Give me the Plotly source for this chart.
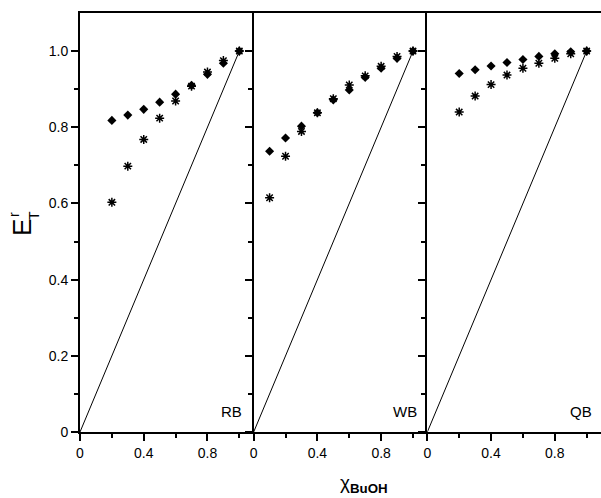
import plotly.graph_objects as go
from plotly.subplots import make_subplots

# ---- data ----
x_rb = [0.2, 0.3, 0.4, 0.5, 0.6, 0.7, 0.8, 0.9, 1.0]
rb_diamond = [0.818, 0.832, 0.847, 0.866, 0.887, 0.910, 0.939, 0.968, 1.0]
rb_star = [0.603, 0.698, 0.768, 0.824, 0.869, 0.908, 0.945, 0.975, 1.0]

x_wb = [0.1, 0.2, 0.3, 0.4, 0.5, 0.6, 0.7, 0.8, 0.9, 1.0]
wb_diamond = [0.737, 0.772, 0.803, 0.838, 0.872, 0.898, 0.931, 0.955, 0.981, 1.0]
wb_star = [0.615, 0.724, 0.789, 0.838, 0.875, 0.911, 0.935, 0.960, 0.986, 1.0]

x_qb = [0.2, 0.3, 0.4, 0.5, 0.6, 0.7, 0.8, 0.9, 1.0]
qb_diamond = [0.941, 0.951, 0.961, 0.970, 0.978, 0.986, 0.993, 0.998, 1.0]
qb_star = [0.840, 0.882, 0.912, 0.937, 0.955, 0.968, 0.981, 0.993, 1.0]

ideal_x = [0, 1]
ideal_y = [0, 1]

panel_names = ["RB", "WB", "QB"]
x_ticks = [0, 0.4, 0.8]
x_ticktext = ["0", "0.4", "0.8"]
x_minor = [0.2, 0.6, 1.0]
y_ticks = [0, 0.2, 0.4, 0.6, 0.8, 1.0]
y_ticktext = ["0", "0.2", "0.4", "0.6", "0.8", "1.0"]
y_minor = [0.1, 0.3, 0.5, 0.7, 0.9]

FONT = "Arial, Liberation Sans, sans-serif"

fig = make_subplots(rows=1, cols=3, horizontal_spacing=0, shared_yaxes=False)

panels = [(x_rb, rb_diamond, rb_star), (x_wb, wb_diamond, wb_star), (x_qb, qb_diamond, qb_star)]
for i, (xs, dia, star) in enumerate(panels, start=1):
    fig.add_trace(go.Scatter(x=ideal_x, y=ideal_y, mode="lines",
                             line=dict(color="black", width=1), showlegend=False,
                             hoverinfo="skip"), row=1, col=i)
    fig.add_trace(go.Scatter(x=xs, y=star, mode="markers",
                             marker=dict(symbol="asterisk-open", size=7.5, color="black",
                                         line=dict(color="black", width=1.5)),
                             showlegend=False), row=1, col=i)
    fig.add_trace(go.Scatter(x=xs, y=dia, mode="markers",
                             marker=dict(symbol="diamond", size=7, color="black"),
                             showlegend=False), row=1, col=i)

for i in range(1, 4):
    fig.update_xaxes(range=[0, 1.09], tickvals=x_ticks, ticktext=x_ticktext,
                     ticks="outside", ticklen=7, tickwidth=1.5, tickcolor="black",
                     minor=dict(tickvals=x_minor, ticks="outside", ticklen=4,
                                tickwidth=1.5, tickcolor="black"),
                     showline=True, linewidth=2, linecolor="black", mirror=True,
                     showgrid=False, zeroline=False,
                     tickfont=dict(family=FONT, size=14, color="black"),
                     row=1, col=i)
    fig.update_yaxes(range=[0, 1.1], tickvals=y_ticks, ticktext=y_ticktext,
                     ticks="outside", ticklen=7, tickwidth=1.5, tickcolor="black",
                     minor=dict(tickvals=y_minor, ticks="outside", ticklen=4,
                                tickwidth=1.5, tickcolor="black"),
                     showline=True, linewidth=2, linecolor="black",
                     showgrid=False, zeroline=False, showticklabels=(i == 1),
                     tickfont=dict(family=FONT, size=14, color="black"),
                     row=1, col=i)

# right-edge tick marks (pointing left)
fig.update_layout(yaxis4=dict(overlaying="y3", anchor="free", position=1.0, side="left",
                              range=[0, 1.1], tickvals=y_ticks, showticklabels=False,
                              ticks="outside", ticklen=7, tickwidth=1.5, tickcolor="black",
                              showline=False, showgrid=False, zeroline=False))

# panel labels
label_x = [1.03, 1.035, 1.045]
for i, (name, lx) in enumerate(zip(panel_names, label_x), start=1):
    fig.add_annotation(x=lx, y=0.053, xref=f"x{i if i > 1 else ''}", yref="y",
                       text=name, showarrow=False, xanchor="right", yanchor="middle",
                       font=dict(family=FONT, size=15, color="black"))

W_PLOT = 521.0
H_PLOT = 419.0


def px2paper(px, py):
    return (px - 80) / W_PLOT, (432 - py) / H_PLOT


ex, ey = px2paper(22, 228)
fig.add_annotation(x=ex, y=ey, xref="paper", yref="paper", text="E", textangle=-90,
                   showarrow=False, xanchor="center", yanchor="middle",
                   font=dict(family=FONT, size=26, color="black"))
tx, ty = px2paper(34, 216)
fig.add_annotation(x=tx, y=ty, xref="paper", yref="paper", text="T", textangle=-90,
                   showarrow=False, xanchor="center", yanchor="middle",
                   font=dict(family=FONT, size=14, color="black"))
rx, ry = px2paper(14, 215)
fig.add_annotation(x=rx, y=ry, xref="paper", yref="paper", text="r", textangle=-90,
                   showarrow=False, xanchor="center", yanchor="middle",
                   font=dict(family=FONT, size=14, color="black"))

cx, cy = px2paper(364, 484)
fig.add_annotation(x=cx, y=cy, xref="paper", yref="paper",
                   text="χ<sub><b>BuOH</b></sub>", showarrow=False,
                   xanchor="center", yanchor="middle",
                   font=dict(family=FONT, size=19, color="black"))

fig.update_layout(width=601, height=498, margin=dict(l=80, r=0, t=13, b=66),
                  paper_bgcolor="white", plot_bgcolor="white", showlegend=False)

fig.write_html("out.html", config={"displayModeBar": False},
               post_script="document.body.style.margin='0';document.body.style.overflow='hidden';")
